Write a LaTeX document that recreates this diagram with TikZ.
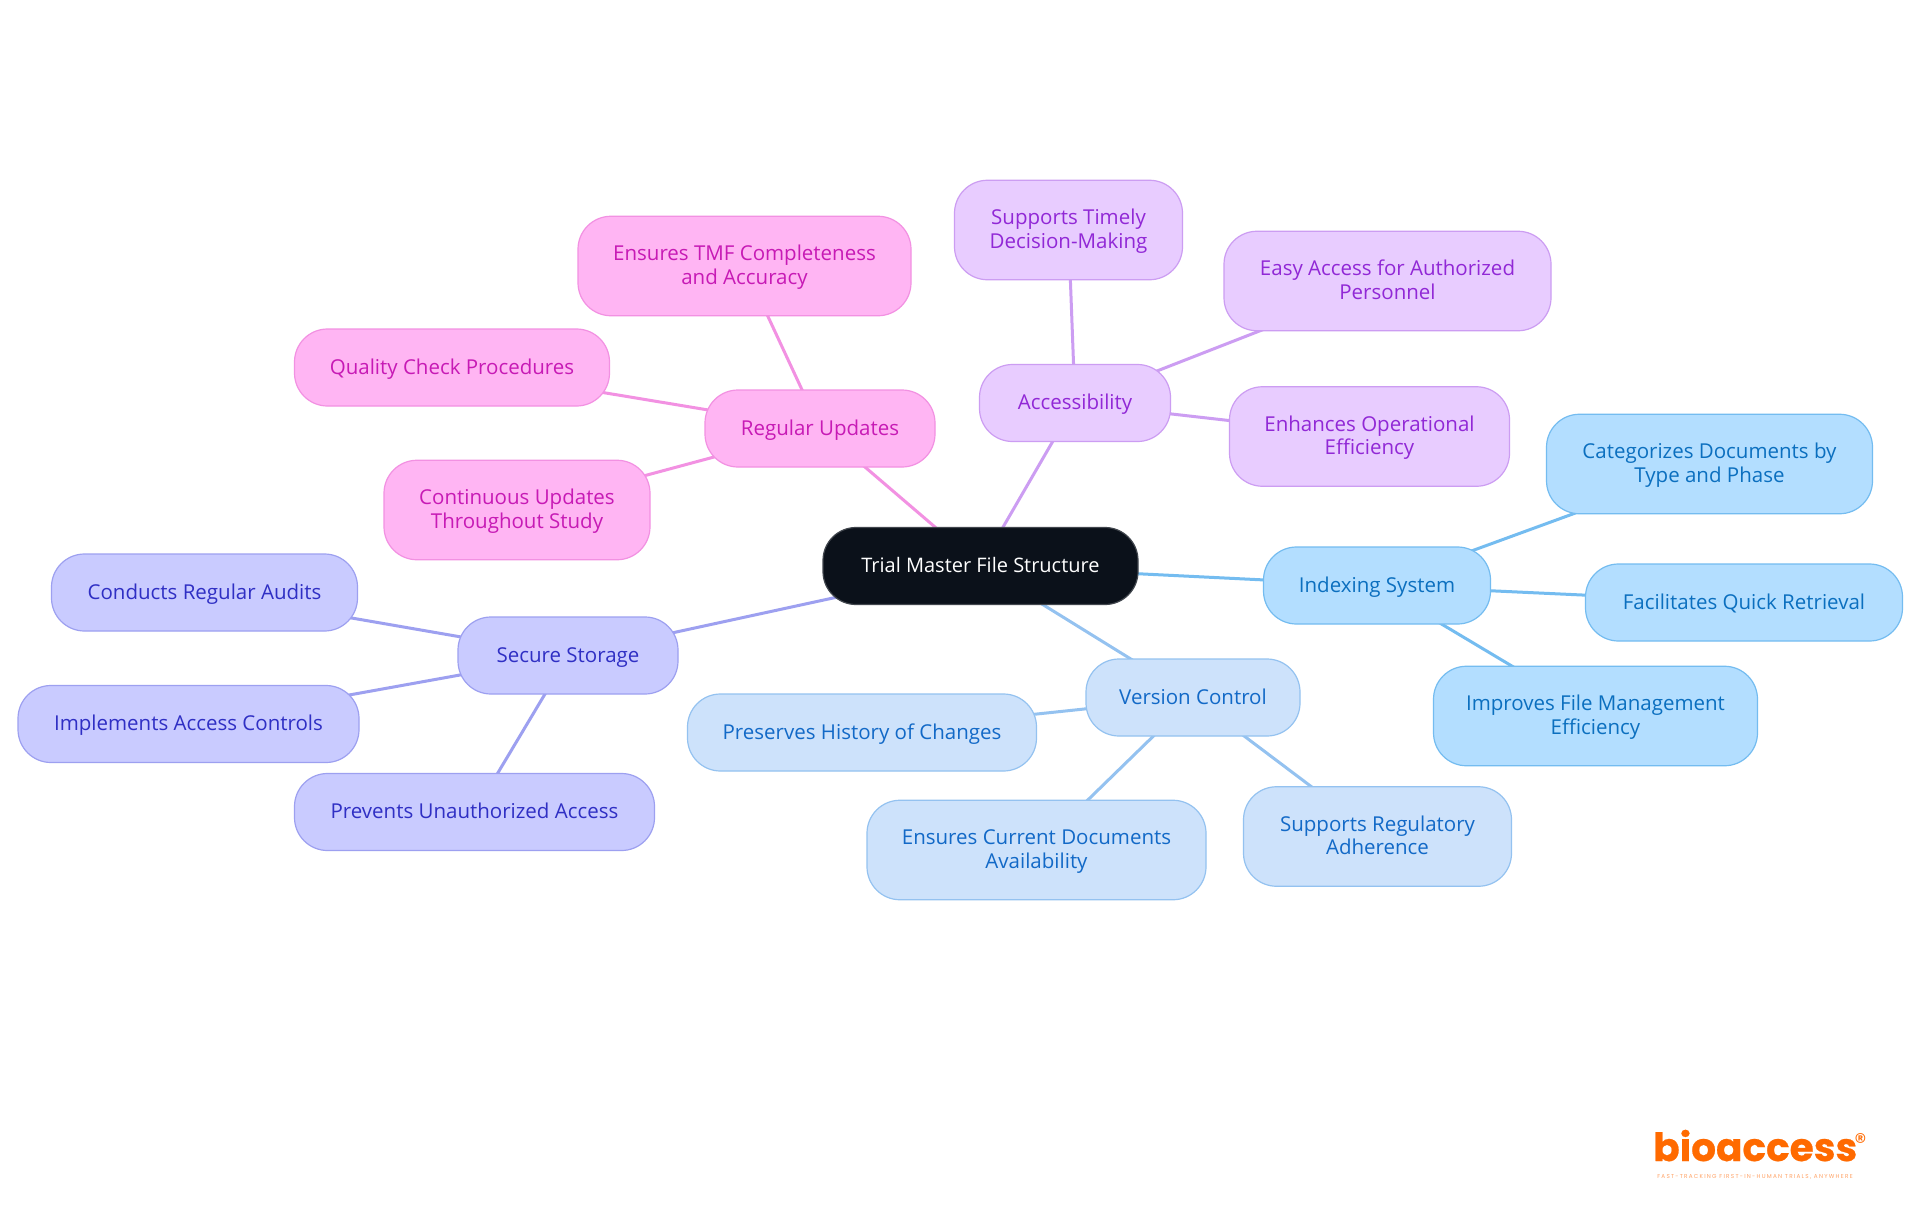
\documentclass[tikz,border=0pt]{standalone}
\usepackage{fontspec}
\setmainfont{Open Sans}
\newfontfamily\logofont[FakeBold=0.6]{Poppins}
\newfontfamily\markfont{Poppins}
\newfontfamily\tagfont[LetterSpace=22]{Poppins}
\usetikzlibrary{backgrounds}
\definecolor{rootfill}{HTML}{0B111A}
\definecolor{rootline}{HTML}{41464D}
\definecolor{pinkfill}{HTML}{FFB5F3}
\definecolor{pinkline}{HTML}{F291E2}
\definecolor{pinktext}{HTML}{C71AB5}
\definecolor{purpfill}{HTML}{E8CCFF}
\definecolor{purpline}{HTML}{CC9DF2}
\definecolor{purptext}{HTML}{9128D6}
\definecolor{skyfill}{HTML}{B3DEFF}
\definecolor{skyline}{HTML}{74BCF0}
\definecolor{skytext}{HTML}{0B6FBF}
\definecolor{palefill}{HTML}{CDE2FB}
\definecolor{paleline}{HTML}{94C2F0}
\definecolor{paletext}{HTML}{1269C7}
\definecolor{violfill}{HTML}{C9CBFF}
\definecolor{violline}{HTML}{9DA0F0}
\definecolor{violtext}{HTML}{2F2FC4}
\definecolor{logoorange}{HTML}{FF6A00}
\definecolor{tagorange}{HTML}{FFA366}
\tikzset{
  box/.style={rectangle,rounded corners=33pt,line width=1.2pt,align=center,inner sep=0pt,
    font=\fontsize{20.5}{23.3}\selectfont},
  small/.style={box,minimum height=77pt,text height=19pt,text depth=5.4pt},
  tall/.style={box,minimum height=99.5pt,text height=41pt,text depth=5pt},
  rootbox/.style={draw=rootline,fill=rootfill,text=white,font=\fontsize{20}{23.3}\selectfont},
  pinkbox/.style={draw=pinkline,fill=pinkfill,text=pinktext},
  purpbox/.style={draw=purpline,fill=purpfill,text=purptext},
  skybox/.style={draw=skyline,fill=skyfill,text=skytext},
  palebox/.style={draw=paleline,fill=palefill,text=paletext},
  violbox/.style={draw=violline,fill=violfill,text=violtext},
  link/.style={line width=3pt},
}
\begin{document}
\begin{tikzpicture}[x=1pt,y=-1pt]
\useasboundingbox (0,0) rectangle (1920,1215);
\node[small,rootbox,minimum width=315pt] (root) at (980.5,566) {Trial Master File Structure};
\node[small,purpbox,minimum width=191pt] (acc) at (1075,403) {Accessibility};
\node[tall,purpbox,minimum width=228pt] (timely) at (1068.5,230) {Supports Timely\\Decision-Making};
\node[tall,purpbox,minimum width=327pt] (easy) at (1387.5,281) {Easy Access for Authorized\\Personnel};
\node[tall,purpbox,minimum width=280pt] (enh) at (1369.5,436.5) {Enhances Operational\\Efficiency};
\node[small,pinkbox,minimum width=230pt] (reg) at (820,428.5) {Regular Updates};
\node[tall,pinkbox,minimum width=333pt] (tmf) at (744.5,266) {Ensures TMF Completeness\\and Accuracy};
\node[small,pinkbox,minimum width=315pt] (qual) at (452,367.5) {Quality Check Procedures};
\node[tall,pinkbox,minimum width=266pt] (cont) at (517,510) {Continuous Updates\\Throughout Study};
\node[small,skybox,minimum width=227pt] (idx) at (1377,585.5) {Indexing System};
\node[tall,skybox,minimum width=326pt] (cat) at (1709.5,464) {Categorizes Documents by\\Type and Phase};
\node[small,skybox,minimum width=317pt] (fac) at (1744,602.5) {Facilitates Quick Retrieval};
\node[tall,skybox,minimum width=324pt] (imp) at (1595.5,716) {Improves File Management\\Efficiency};
\node[small,palebox,minimum width=214pt] (ver) at (1193,697.5) {Version Control};
\node[small,palebox,minimum width=349pt] (pres) at (862,732.5) {Preserves History of Changes};
\node[tall,palebox,minimum width=339pt] (cur) at (1036.5,850) {Ensures Current Documents\\Availability};
\node[tall,palebox,minimum width=268pt] (adh) at (1377.5,836.5) {Supports Regulatory\\Adherence};
\node[small,violbox,minimum width=220pt] (sec) at (568,655.5) {Secure Storage};
\node[small,violbox,minimum width=306pt] (aud) at (204.5,592.5) {Conducts Regular Audits};
\node[small,violbox,minimum width=341pt] (ctl) at (188.5,724) {Implements Access Controls};
\node[small,violbox,minimum width=360pt] (prev) at (474.5,812) {Prevents Unauthorized Access};
\begin{scope}[on background layer]
\fill[white] (0,0) rectangle (1920,1215);
\draw[link,pinkline] (root.center) -- (reg.center);
\draw[link,pinkline] (reg.center) -- (tmf.center);
\draw[link,pinkline] (reg.center) -- (qual.center);
\draw[link,pinkline] (reg.center) -- (cont.center);
\draw[link,purpline] (root.center) -- (acc.center);
\draw[link,purpline] (acc.center) -- (timely.center);
\draw[link,purpline] (acc.center) -- (easy.center);
\draw[link,purpline] (acc.center) -- (enh.center);
\draw[link,skyline] (root.center) -- (idx.center);
\draw[link,skyline] (idx.center) -- (cat.center);
\draw[link,skyline] (idx.center) -- (fac.center);
\draw[link,skyline] (idx.center) -- (imp.center);
\draw[link,paleline] (root.center) -- (ver.center);
\draw[link,paleline] (ver.center) -- (pres.center);
\draw[link,paleline] (ver.center) -- (cur.center);
\draw[link,paleline] (ver.center) -- (adh.center);
\draw[link,violline] (root.center) -- (sec.center);
\draw[link,violline] (sec.center) -- (aud.center);
\draw[link,violline] (sec.center) -- (ctl.center);
\draw[link,violline] (sec.center) -- (prev.center);
\end{scope}
\node[anchor=base west,inner sep=0pt,text=logoorange,font=\logofont\bfseries\fontsize{39}{40}\selectfont] (logo) at (1653,1161) {bioaccess};
\node[anchor=center,inner sep=0pt,text=logoorange,font=\markfont\fontsize{24}{24}\selectfont] (mark) at (1860.5,1142) {®};
\node[anchor=center,inner sep=0pt,text=tagorange,font=\tagfont\fontsize{5.7}{6}\selectfont] (tag) at (1755,1177) {FAST-TRACKING FIRST-IN-HUMAN TRIALS, ANYWHERE};
\end{tikzpicture}
\end{document}
